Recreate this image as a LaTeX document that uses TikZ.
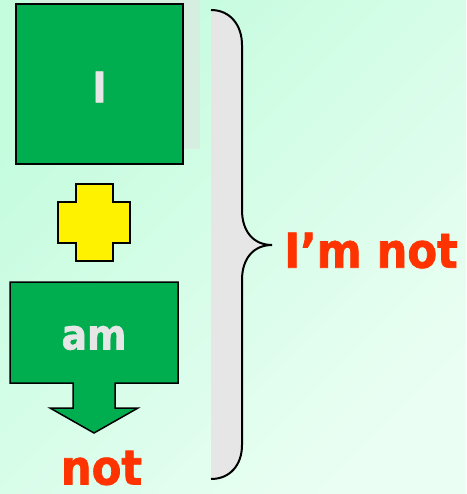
\documentclass[tikz,border=0pt]{standalone}
\usepackage{fontspec}
\setmainfont{DejaVu Sans Condensed}[BoldFeatures={FakeBold=1.5}]
\usepackage{xcolor}
\usepackage{tikz}
\usetikzlibrary{positioning,calc}
\definecolor{mint}{RGB}{196,252,222}
\definecolor{mintlight}{RGB}{234,254,243}
\definecolor{boxgreen}{RGB}{0,174,80}
\definecolor{shadowgrey}{RGB}{214,238,224}
\definecolor{textgrey}{RGB}{230,230,230}
\definecolor{notred}{RGB}{255,51,0}
\definecolor{bracegrey}{RGB}{230,230,230}

\begin{document}
\begin{tikzpicture}[x=1pt,y=-1pt]
	\tikzset{align=center}

	\tikzset{greenbox/.style = {draw=black,fill=boxgreen,line width=1.5pt}}

	\tikzset{word/.style = {text=textgrey,inner sep=0pt,font=\fontsize{42}{42}\selectfont\bfseries}}

	\tikzset{redword/.style = {text=notred,inner sep=0pt,font=\fontsize{48}{48}\selectfont\bfseries}}

	\useasboundingbox (0,0) rectangle (466,494);

	% background
	\shade[top color=mint,bottom color=mintlight,shading angle=45] (0,0) rectangle (466,494);
	\fill[shadowgrey] (31,0) rectangle (200,149);

	% boxes
	\node[greenbox,word,minimum width=167pt,minimum height=160pt] (I) at (99.5,84) {};
	\node[word] (Itext) at (99.5,87) {I};

	\draw[line width=1.5pt,fill=yellow] (76,184) -- (113,184) -- (113,202) -- (130,202)
		-- (130,243) -- (113,243) -- (113,261) -- (76,261) -- (76,243) -- (58,243)
		-- (58,202) -- (76,202) -- cycle;

	\draw[greenbox] (10,282) -- (178,282) -- (178,383) -- (115,383) -- (115,408)
		-- (138,408) -- (94,433) -- (50,408) -- (73,408) -- (73,383) -- (10,383) -- cycle;
	\node[word] (am) at (94,338) {am};

	\node[redword] (not) at (101.5,468) {not};

	% brace
	\coordinate (btop) at (211,10);
	\coordinate (btip) at (272,245);
	\coordinate (bbot) at (211,479);
	\fill[bracegrey] (btop) .. controls (230,10) and (242,25) .. (242,45) -- (242,210)
		.. controls (242,232) and (254,245) .. (btip) .. controls (254,245) and (242,258) .. (242,280)
		-- (242,445) .. controls (242,465) and (230,479) .. (bbot) -- cycle;
	\draw[line width=2pt] (btop) .. controls (230,10) and (242,25) .. (242,45) -- (242,210)
		.. controls (242,232) and (254,245) .. (btip) .. controls (254,245) and (242,258) .. (242,280)
		-- (242,445) .. controls (242,465) and (230,479) .. (bbot);

	\node[redword] (imnot) at (371,250.5) {I’m not};
\end{tikzpicture}
\end{document}
